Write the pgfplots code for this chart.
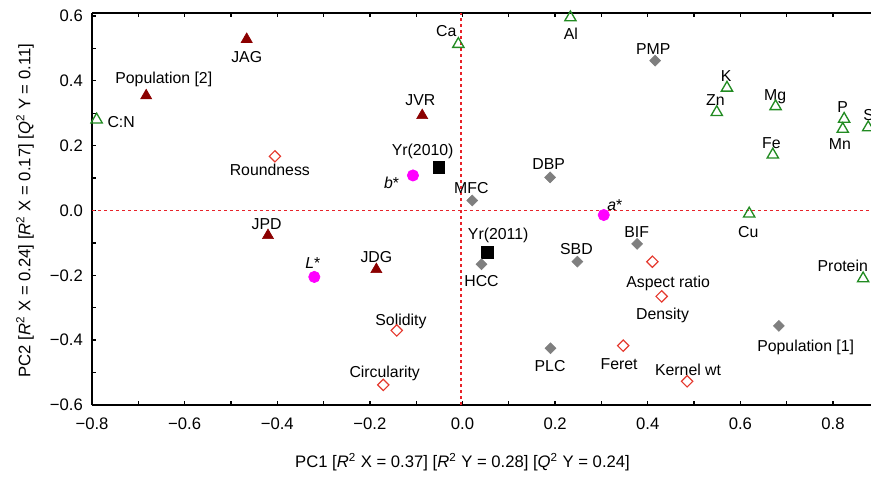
\documentclass[border=0pt]{standalone}
\usepackage{fontspec}
\setmainfont{Liberation Sans}
\usepackage{pgfplots}
\pgfplotsset{compat=1.18}
\definecolor{jred}{HTML}{8B0000}
\definecolor{mag}{HTML}{FF00FF}
\definecolor{dgray}{HTML}{7F7F7F}
\definecolor{ored}{HTML}{E5392E}
\definecolor{ogreen}{HTML}{228B22}
\definecolor{zline}{HTML}{E8232A}
\tikzset{lbl/.style={font=\fontsize{9.5}{11}\selectfont, text height=0.72em, text depth=0pt, inner sep=0pt, anchor=center}}

\begin{document}
\begin{tikzpicture}
\begin{axis}[
  scale only axis, width=467.4pt, height=235.2pt,
  xmin=-0.8, xmax=0.882, ymin=-0.6, ymax=0.609,
  axis x line=box, axis y line*=left,
  axis line style={line width=1pt},
  tick align=inside, xtick pos=both, ytick pos=left,
  major tick length=2.5pt, minor tick length=2.5pt,
  tick style={line width=0.8pt, black},
  xtick={-0.8,-0.6,-0.4,-0.2,0,0.2,0.4,0.6,0.8},
  xticklabels={−0.8,−0.6,−0.4,−0.2,0.0,0.2,0.4,0.6,0.8},
  ytick={-0.6,-0.4,-0.2,0,0.2,0.4,0.6},
  yticklabels={−0.6,−0.4,−0.2,0.0,0.2,0.4,0.6},
  minor tick num=1,
  ticklabel style={font=\fontsize{10}{12}\selectfont},
  xticklabel style={yshift=-4pt},
  yticklabel style={xshift=-2pt},
  every axis x label/.style={at={(axis description cs:0.4756,-0.1454)}, anchor=center},
  every axis y label/.style={at={(axis description cs:-0.086,0.496)}, rotate=90, anchor=center},
  label style={font=\fontsize{10}{12}\selectfont},
  xlabel={PC1 [\textit{R}\textsuperscript{2} X = 0.37] [\textit{R}\textsuperscript{2} Y = 0.28] [\textit{Q}\textsuperscript{2} Y = 0.24]},
  ylabel={PC2 [\textit{R}\textsuperscript{2} X = 0.24] [\textit{R}\textsuperscript{2} X = 0.17] [\textit{Q}\textsuperscript{2} Y = 0.11]},
  clip=false,
]
\coordinate (sw) at (rel axis cs:0,0);
\coordinate (ne) at (rel axis cs:1,1);

% zero lines
\addplot[zline, line width=1.1pt, dash pattern=on 1.6pt off 2pt, forget plot] coordinates {(-0.004,-0.6) (-0.004,0.609)};
\addplot[zline, line width=1.1pt, dash pattern=on 1.6pt off 2pt, forget plot] coordinates {(-0.8,0) (0.882,0)};

% populations / genotypes
\addplot[only marks, mark=triangle*, mark size=3.8pt, color=jred] coordinates {
(-0.466,0.528) (-0.683,0.354) (-0.087,0.293) (-0.420,-0.077) (-0.186,-0.182)};
% colour
\addplot[only marks, mark=*, mark size=3.4pt, color=mag] coordinates {
(-0.107,0.108) (-0.320,-0.205) (0.305,-0.014)};
% year
\addplot[only marks, mark=square*, mark size=3.5pt, color=black] coordinates {
(-0.051,0.133) (0.053,-0.130)};
% milling traits
\addplot[only marks, mark=square*, mark size=2.3pt, mark options={rotate=45}, color=dgray] coordinates {
(0.416,0.462) (0.189,0.102) (0.021,0.031) (0.041,-0.166) (0.248,-0.158) (0.377,-0.103) (0.190,-0.425) (0.683,-0.356)};
% grain shape
\addplot[only marks, mark=square, mark size=2.4pt, mark options={rotate=45}, color=ored, line width=0.7pt] coordinates {
(-0.405,0.167) (-0.142,-0.370) (-0.171,-0.538) (0.410,-0.158) (0.430,-0.265) (0.347,-0.417) (0.485,-0.527)};
% minerals
\addplot[only marks, mark=triangle, mark size=3.9pt, color=ogreen, line width=0.8pt] coordinates {
(-0.790,0.280) (-0.009,0.513) (0.233,0.595) (0.571,0.378) (0.549,0.303) (0.676,0.321)
(0.824,0.282) (0.821,0.251) (0.876,0.256) (0.670,0.172) (0.619,-0.010) (0.865,-0.210)};

\node[lbl] at (axis cs:-0.466,0.475) {JAG};
\node[lbl] at (axis cs:-0.645,0.410) {Population [2]};
\node[lbl] at (axis cs:-0.737,0.274) {C:N};
\node[lbl] at (axis cs:-0.091,0.342) {JVR};
\node[lbl] at (axis cs:-0.416,0.126) {Roundness};
\node[lbl] at (axis cs:-0.086,0.188) {Yr(2010)};
\node[lbl] at (axis cs:-0.153,0.087) {\textit{b}*};
\node[lbl] at (axis cs:-0.035,0.554) {Ca};
\node[lbl] at (axis cs:0.234,0.547) {Al};
\node[lbl] at (axis cs:0.412,0.501) {PMP};
\node[lbl] at (axis cs:0.569,0.415) {K};
\node[lbl] at (axis cs:0.546,0.342) {Zn};
\node[lbl] at (axis cs:0.675,0.357) {Mg};
\node[lbl] at (axis cs:0.821,0.321) {P};
\node[lbl] at (axis cs:0.815,0.206) {Mn};
\node[lbl, anchor=west] at (axis cs:0.865,0.295) {S};
\node[lbl] at (axis cs:0.667,0.210) {Fe};
\node[lbl] at (axis cs:0.186,0.144) {DBP};
\node[lbl] at (axis cs:0.019,0.072) {MFC};
\node[lbl] at (axis cs:0.329,0.018) {\textit{a}*};
\node[lbl] at (axis cs:0.617,-0.066) {Cu};
\node[lbl] at (axis cs:-0.423,-0.040) {JPD};
\node[lbl] at (axis cs:-0.323,-0.161) {\textit{L}*};
\node[lbl] at (axis cs:-0.186,-0.141) {JDG};
\node[lbl] at (axis cs:-0.133,-0.335) {Solidity};
\node[lbl] at (axis cs:-0.168,-0.496) {Circularity};
\node[lbl] at (axis cs:0.077,-0.072) {Yr(2011)};
\node[lbl] at (axis cs:0.041,-0.215) {HCC};
\node[lbl] at (axis cs:0.246,-0.118) {SBD};
\node[lbl] at (axis cs:0.376,-0.064) {BIF};
\node[lbl] at (axis cs:0.444,-0.218) {Aspect ratio};
\node[lbl] at (axis cs:0.432,-0.318) {Density};
\node[lbl] at (axis cs:0.741,-0.418) {Population [1]};
\node[lbl] at (axis cs:0.189,-0.479) {PLC};
\node[lbl] at (axis cs:0.338,-0.472) {Feret};
\node[lbl] at (axis cs:0.487,-0.489) {Kernel wt};
\node[lbl] at (axis cs:0.821,-0.171) {Protein};
\end{axis}
\pgfresetboundingbox
\path (sw) ++(-55.2pt,-42.6pt) rectangle ([yshift=7.8pt]ne);
\end{tikzpicture}
\end{document}
